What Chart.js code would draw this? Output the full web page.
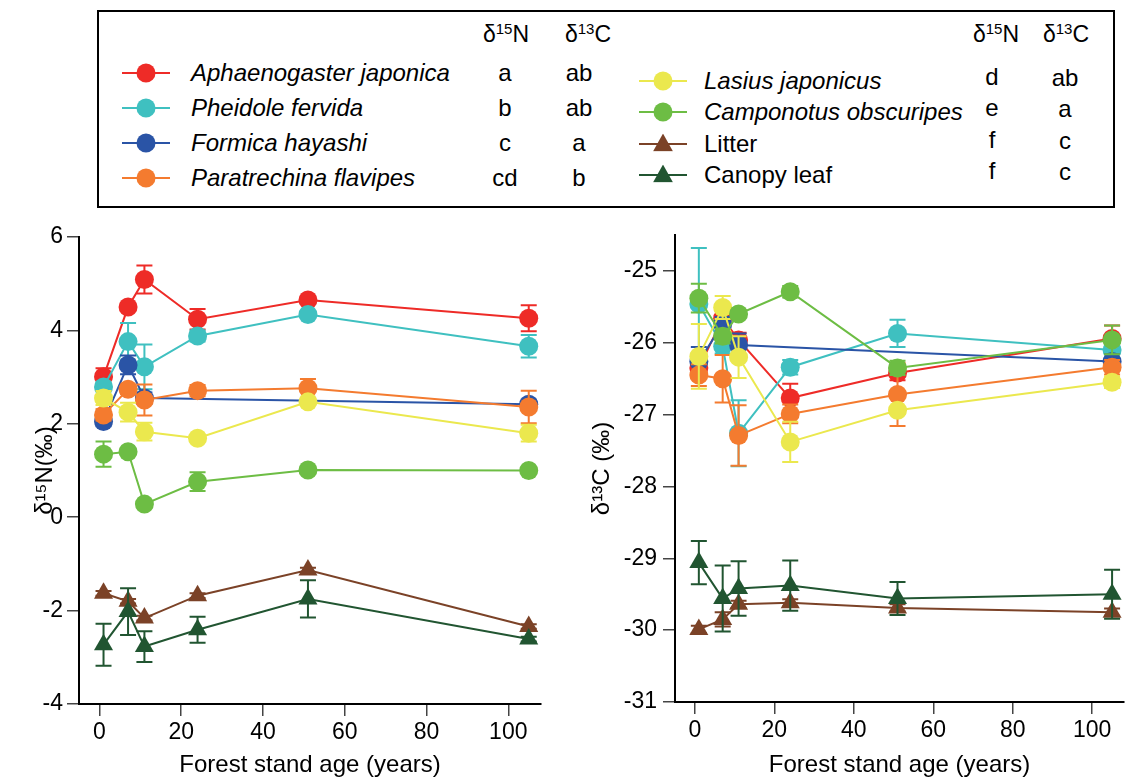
<!DOCTYPE html>
<html>
<head>
<meta charset="utf-8">
<script src="https://cdn.jsdelivr.net/npm/chart.js@4.4.1/dist/chart.umd.min.js"></script>
<style>
  body { margin: 0; width: 1135px; height: 781px; background: #fff; position: relative; overflow: hidden;
         font-family: "Liberation Sans", Arial, Helvetica, sans-serif; color: #000; }
  .legend { position: absolute; left: 97px; top: 10px; width: 1018px; height: 198px;
            border: 2px solid #000; box-sizing: border-box; }
  .legend .t { position: absolute; font-size: 24px; line-height: 1; white-space: nowrap; transform: translateY(-50%); }
  .legend .c { position: absolute; font-size: 23px; line-height: 1; white-space: nowrap; transform: translate(-50%, -50%); }
  .legend sup { font-size: 15px; vertical-align: 0; position: relative; top: -8px; }
  .legend .ln { position: absolute; height: 2px; transform: translateY(-50%); }
  .legend .dot { position: absolute; width: 19px; height: 19px; border-radius: 50%; transform: translate(-50%, -50%); }
  .legend .tri { position: absolute; width: 20px; height: 18px; clip-path: polygon(50% 0, 100% 100%, 0 100%);
                 transform: translate(-50%, -58%); }
  .panel { position: absolute; top: 215px; height: 566px; }
</style>
</head>
<body>
<div class="legend" id="legend"></div>
<div class="panel" style="left:0;width:560px"><canvas id="n15-chart"></canvas></div>
<div class="panel" style="left:570px;width:565px"><canvas id="c13-chart"></canvas></div>
<script>
// ── Data ────────────────────────────────────────────────────
const ages = [1, 7, 11, 24, 51, 105]
const xTicks = [0, 20, 40, 60, 80, 100]

const groups = [
  'Aphaenogaster japonica', 'Pheidole fervida', 'Formica hayashi', 'Paratrechina flavipes',
  'Lasius japonicus', 'Camponotus obscuripes', 'Litter', 'Canopy leaf',
]
const italic = [true, true, true, true, true, true, false, false]
const letters15N = ['a', 'b', 'c', 'cd', 'd', 'e', 'f', 'f']
const letters13C = ['ab', 'ab', 'a', 'b', 'ab', 'a', 'c', 'c']
const colors = ['#ee2b27', '#3fc0c0', '#2a54a6', '#f47b2f', '#ebe84e', '#6dbd44', '#7b4227', '#215531']
const markers = ['circle', 'circle', 'circle', 'circle', 'circle', 'circle', 'triangle', 'triangle']

// δ15N means and error bars, one row per group, one column per stand age
const n15Mean = [
  [3.01, 4.50, 5.09, 4.24, 4.65, 4.26],
  [2.79, 3.76, 3.22, 3.88, 4.34, 3.66],
  [2.05, 3.26, 2.55, null, null, 2.42],
  [2.19, 2.74, 2.51, 2.71, 2.76, 2.36],
  [2.55, 2.25, 1.83, 1.69, 2.47, 1.80],
  [1.35, 1.40, 0.28, 0.76, 1.01, 1.00],
  [-1.63, -1.80, -2.16, -1.68, -1.13, -2.34],
  [-2.73, -2.02, -2.77, -2.41, -1.75, -2.61],
]
const n15Err = [
  [0.18, 0.05, 0.30, 0.22, 0.05, 0.28],
  [0.10, 0.40, 0.48, 0.12, 0.05, 0.24],
  [0.10, 0.20, 0.12, null, null, 0.10],
  [0.12, 0.10, 0.33, 0.12, 0.20, 0.35],
  [0.15, 0.20, 0.19, 0.05, 0.05, 0.18],
  [0.27, 0.05, 0.05, 0.20, 0.05, 0.05],
  [0.05, 0.05, 0.05, 0.05, 0.05, 0.05],
  [0.45, 0.50, 0.33, 0.28, 0.40, 0.05],
]
const n15Ticks = [-4, -2, 0, 2, 4, 6]

// δ13C means and error bars
const c13Mean = [
  [-26.35, -25.66, -25.96, -26.77, -26.42, -25.94],
  [-25.46, -26.05, -27.26, -26.34, -25.87, -26.10],
  [-26.26, -25.74, -26.03, null, null, -26.26],
  [-26.45, -26.50, -27.29, -26.99, -26.72, -26.34],
  [-26.19, -25.51, -26.20, -27.38, -26.94, -26.55],
  [-25.38, -25.91, -25.60, -25.29, -26.35, -25.96],
  [-29.99, -29.85, -29.64, -29.62, -29.69, -29.75],
  [-29.06, -29.56, -29.42, -29.38, -29.56, -29.50],
]
const c13Err = [
  [0.10, 0.10, 0.10, 0.20, 0.10, 0.18],
  [0.78, 0.10, 0.46, 0.10, 0.19, 0.10],
  [0.20, 0.10, 0.16, null, null, 0.10],
  [0.15, 0.33, 0.42, 0.13, 0.44, 0.10],
  [0.45, 0.16, 0.29, 0.28, 0.05, 0.08],
  [0.20, 0.10, 0.05, 0.08, 0.10, 0.20],
  [0.05, 0.10, 0.05, 0.05, 0.05, 0.05],
  [0.30, 0.46, 0.38, 0.35, 0.23, 0.34],
]
const c13Ticks = [-31, -30, -29, -28, -27, -26, -25]

// ── Legend (HTML) ───────────────────────────────────────────
const legend = document.getElementById('legend')
const leftRows = [61, 96, 131, 166]
const rightRows = [69, 100, 132, 163]
let html = `
  <div class="c" style="left:407px;top:22px">δ<sup>15</sup>N</div>
  <div class="c" style="left:489px;top:22px">δ<sup>13</sup>C</div>
  <div class="c" style="left:897px;top:22px">δ<sup>15</sup>N</div>
  <div class="c" style="left:967px;top:22px">δ<sup>13</sup>C</div>`
groups.forEach((name, i) => {
  const right = i >= 4
  const y = right ? rightRows[i - 4] : leftRows[i % 4]
  const mx = right ? 564 : 47
  const tx = right ? 605 : 92
  const mk = markers[i] === 'circle' ? 'dot' : 'tri'
  html += `
    <div class="ln" style="left:${mx - 24}px;width:48px;top:${y}px;background:${colors[i]}"></div>
    <div class="${mk}" style="left:${mx}px;top:${y}px;background:${colors[i]}"></div>
    <div class="t" style="left:${tx}px;top:${y}px;font-style:${italic[i] ? 'italic' : 'normal'}">${name}</div>
    <div class="c" style="left:${right ? 893 : 406}px;top:${y - (right ? 4 : 0)}px;font-size:24px">${letters15N[i]}</div>
    <div class="c" style="left:${right ? 966 : 480}px;top:${y - (right ? 3 : 0)}px;font-size:24px">${letters13C[i]}</div>`
})
legend.innerHTML = html

// ── Error bar plugin ────────────────────────────────────────
const errorBars = {
  id: 'errorBars',
  beforeDatasetDraw(chart, args) {
    const ds = chart.data.datasets[args.index]
    if (!ds.errors) return
    const yScale = chart.scales.y
    const ctx = chart.ctx
    ctx.save()
    ctx.strokeStyle = ds.borderColor
    ctx.lineWidth = 2
    args.meta.data.forEach((pt, i) => {
      const v = ds.data[i].y
      const e = ds.errors[i]
      if (v == null || !e) return
      const top = yScale.getPixelForValue(v + e)
      const bot = yScale.getPixelForValue(v - e)
      ctx.beginPath()
      ctx.moveTo(pt.x, top)
      ctx.lineTo(pt.x, bot)
      ctx.moveTo(pt.x - 8, top)
      ctx.lineTo(pt.x + 8, top)
      ctx.moveTo(pt.x - 8, bot)
      ctx.lineTo(pt.x + 8, bot)
      ctx.stroke()
    })
    ctx.restore()
  },
}

// ── Charts ──────────────────────────────────────────────────
const tickFont = { family: '"Liberation Sans", Arial, sans-serif', size: 23 }
const titleFont = { family: '"Liberation Sans", Arial, sans-serif', size: 24 }

function makeChart(id, means, errs, yTicks, yMax, yTitle, opts) {
  const datasets = groups.map((name, i) => ({
    label: name,
    data: ages.map((a, j) => ({ x: a, y: means[i][j] })),
    errors: errs[i],
    borderColor: colors[i],
    backgroundColor: colors[i],
    borderWidth: 2,
    pointStyle: markers[i],
    pointRadius: markers[i] === 'circle' ? 9.5 : 11,
    pointBorderWidth: 0,
    spanGaps: true,
    order: groups.length - i,
  }))

  return new Chart(document.getElementById(id), {
    type: 'line',
    data: { datasets },
    plugins: [errorBars],
    options: {
      responsive: true,
      maintainAspectRatio: false,
      animation: false,
      layout: { padding: opts.padding },
      plugins: { legend: { display: false }, tooltip: { enabled: false } },
      scales: {
        x: {
          type: 'linear',
          min: -5,
          max: 108,
          afterBuildTicks: (s) => { s.ticks = xTicks.map((v) => ({ value: v })) },
          afterFit: (s) => { s.height = opts.xHeight },
          ticks: { font: tickFont, color: '#000', padding: 3, maxRotation: 0, callback: (v) => String(v) },
          grid: { drawOnChartArea: false, drawTicks: true, tickLength: 12, color: '#444', lineWidth: 1.5 },
          border: { display: true, color: '#000', width: 2 },
          title: { display: true, text: 'Forest stand age (years)', font: titleFont, color: '#000', padding: { top: 0, bottom: 1 } },
        },
        y: {
          type: 'linear',
          min: yTicks[0],
          max: yMax,
          afterBuildTicks: (s) => { s.ticks = yTicks.map((v) => ({ value: v })) },
          afterFit: (s) => { s.width = opts.yWidth },
          ticks: { font: tickFont, color: '#000', padding: opts.tickPad, callback: (v) => String(v) },
          grid: { drawOnChartArea: false, drawTicks: true, tickLength: 12, color: '#444', lineWidth: 1.5 },
          border: { display: true, color: '#000', width: 2 },
          title: { display: true, text: yTitle, font: titleFont, color: '#000', padding: { top: opts.titlePad, bottom: 0 } },
        },
      },
    },
  })
}

makeChart('n15-chart', n15Mean, n15Err, n15Ticks, 6, 'δ¹⁵N(‰)', {
  padding: { top: 22, right: 19, bottom: 0, left: 0 },
  xHeight: 77,
  yWidth: 79,
  tickPad: 4,
  titlePad: 31,
})

makeChart('c13-chart', c13Mean, c13Err, c13Ticks, -24.5, 'δ¹³C (‰)', {
  padding: { top: 20, right: 0, bottom: 0, left: 0 },
  xHeight: 79,
  yWidth: 105,
  tickPad: 6,
  titlePad: 18,
})
</script>
</body>
</html>
